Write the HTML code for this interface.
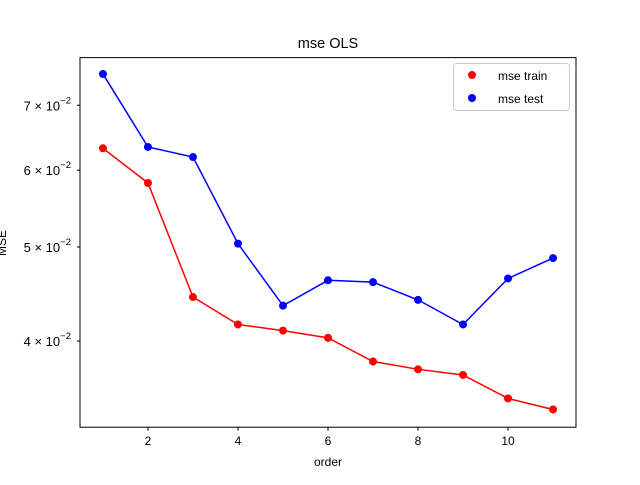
<!DOCTYPE html>
<html><head><meta charset="utf-8"><style>
body{margin:0;background:#fff;}
svg{font-family:"Liberation Sans","DejaVu Sans",sans-serif;}
</style></head><body>
<svg id="chart" width="640" height="480" xmlns="http://www.w3.org/2000/svg">
<rect width="640" height="480" fill="#fff"/>
<text x="328" y="48" font-size="14.5" text-anchor="middle">mse OLS</text>
<text x="328" y="466" font-size="12" text-anchor="middle">order</text>
<text transform="translate(6,243) rotate(-90)" font-size="12" text-anchor="middle">MSE</text>
<g id="ticks"></g>
<g id="series"></g>
<rect x="80" y="57.6" width="496" height="369.6" fill="none" stroke="#000" stroke-width="1"/>
<g>
<rect x="453.5" y="63.5" width="116" height="47" rx="3" fill="#fff" fill-opacity="0.8" stroke="#ccc"/>
<circle cx="472" cy="75" r="4" fill="red"/>
<text x="498" y="80" font-size="12">mse train</text>
<circle cx="472" cy="98" r="4" fill="blue"/>
<text x="498" y="103" font-size="12">mse test</text>
</g>
</svg>
<script>
const orders=[1,2,3,4,5,6,7,8,9,10,11];
const mseTrain=[0.0632,0.0582,0.0444,0.0416,0.0410,0.0403,0.0381,0.0374,0.0369,0.0349,0.0340];
const mseTest=[0.0754,0.0634,0.0619,0.0504,0.0435,0.0462,0.0460,0.0441,0.0416,0.0464,0.0487];
const xTicks=[2,4,6,8,10];
const yTicks=[4,5,6,7];
const NS="http://www.w3.org/2000/svg";
function xs(v){return 80+(v-0.49)/(11.51-0.49)*496;}
function ys(v){return 341-(Math.log10(v)-Math.log10(0.04))*970;}
function mk(tag,attrs,parent){const e=document.createElementNS(NS,tag);for(const k in attrs)e.setAttribute(k,attrs[k]);parent.appendChild(e);return e;}
const tg=document.getElementById('ticks');
xTicks.forEach(t=>{
 const x=xs(t);
 const l=mk('line',{x1:x,x2:x,y1:427.2,y2:430.7,stroke:'#000'},tg);
 
 
 const tx=mk('text',{x:x,y:445,'font-size':12,'text-anchor':'middle'},tg);
 
 
 tx.textContent=t;
});
yTicks.forEach(t=>{
 const y=ys(t/100);
 const l=mk('line',{x1:77,x2:80,y1:y,y2:y,stroke:'#000'},tg);
 
 
 const tx=mk('text',{x:71,y:y+5,'font-size':13,'text-anchor':'end'},tg);
 
 
 tx.innerHTML=t+' \u00d7 10<tspan dy="-7" font-size="9.5">\u22122</tspan>';
});
const sg=document.getElementById('series');
function drawSeries(vals,color,name){
 const pts=vals.map((v,i)=>xs(orders[i])+','+ys(v)).join(' ');
 const pl=mk('polyline',{points:pts,fill:'none',stroke:color,'stroke-width':1.5},sg);
 
 
 vals.forEach((v,i)=>{
  const c=mk('circle',{cx:xs(orders[i]),cy:ys(v),r:4,fill:color},sg);
  
  
 });
}
drawSeries(mseTrain,'red','mse-train');
drawSeries(mseTest,'blue','mse-test');
</script>
</body></html>
